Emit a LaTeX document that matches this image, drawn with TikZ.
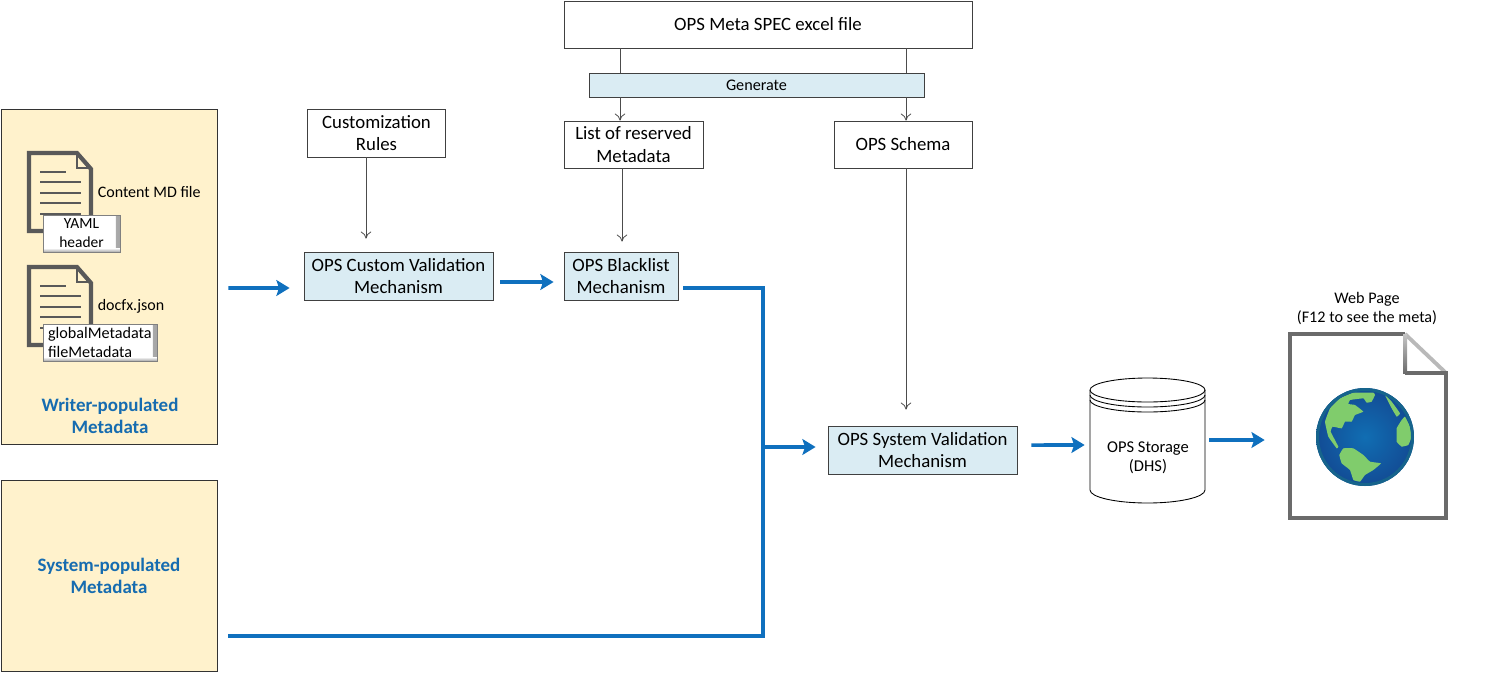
\documentclass[tikz,border=0pt]{standalone}
\usepackage{fontspec}
\setmainfont{Carlito}
\usetikzlibrary{arrows.meta}
\definecolor{creamfill}{RGB}{255,242,204}
\definecolor{mechfill}{RGB}{218,236,243}
\definecolor{flowblue}{RGB}{15,112,190}
\definecolor{titleblue}{RGB}{22,108,176}
\definecolor{icongray}{RGB}{89,89,89}
\definecolor{landgreen}{RGB}{128,204,108}
\definecolor{seablue}{RGB}{20,84,165}
\definecolor{rimteal}{RGB}{22,100,140}
\tikzset{
  diagram/.style={
    x=0.02cm, y=-0.02cm,
    line join=miter,
    every node/.style={align=center, font=\fontsize{10.7}{13}\selectfont},
  },
  plainbox/.style={draw=black!75, fill=white, line width=0.5pt, inner sep=0pt},
  mechbox/.style={plainbox, fill=mechfill},
  creambox/.style={draw=black!80, fill=creamfill, line width=0.5pt, inner sep=0pt, minimum width=4.32cm},
  bluetitle/.style={font=\fontsize{10.8}{12.5}\selectfont\bfseries, text=titleblue},
  bevelbox/.style={draw=gray, fill=white, line width=0.5pt, inner sep=0pt, align=left,
    font=\fontsize{9.2}{10.8}\selectfont,
    path picture={
      \shade[left color=white, right color=gray!70]
        ([xshift=-0.08cm]path picture bounding box.south east) rectangle (path picture bounding box.north east);
      \shade[top color=white, bottom color=gray!70]
        ([yshift=0.08cm]path picture bounding box.south west) rectangle (path picture bounding box.south east);
    }},
  thin flow/.style={draw=black!70, line width=0.45pt, -{To[length=4pt,width=6pt]}},
  thin link/.style={draw=black!70, line width=0.45pt},
  flow/.style={draw=flowblue, line width=2pt, -{Stealth[length=7.5pt,width=9pt,inset=1.5pt]}},
  flow line/.style={draw=flowblue, line width=2pt},
}
\newcommand{\docicon}[2]{%
  \draw[icongray, line width=2.4pt] (#1+48,#2) -- (#1,#2) -- (#1,#2+78) -- (#1+62,#2+78) -- (#1+62,#2+16) -- cycle;
  \draw[icongray, line width=0.9pt] (#1+48,#2) -- (#1+48,#2+15) -- (#1+62,#2+15);
  \draw[icongray, line width=1.1pt] (#1+11,#2+19) -- ++(26,0);
  \foreach \liney in {29,40,50,61} {
    \draw[icongray, line width=1.1pt] (#1+11,#2+\liney) -- ++(41,0);
  }
}
\begin{document}
\begin{tikzpicture}[diagram]
  \useasboundingbox (0,0) rectangle (1498,673);
  % metadata sources
  \node[creambox, minimum height=6.7cm] (writer) at (109,276.5) {};
  \node[creambox, minimum height=3.82cm, bluetitle] (system) at (109,576) {System-populated\\Metadata};
  \node[bluetitle] (writertitle) at (110,416) {Writer-populated\\Metadata};
  \docicon{29}{153}
  \docicon{29}{267}
  \node[anchor=west, inner sep=0pt, font=\fontsize{9.1}{10}\selectfont] (mdlabel) at (97.5,192) {Content MD file};
  \node[anchor=west, inner sep=0pt, font=\fontsize{9.1}{10}\selectfont] (docfxlabel) at (97.5,306) {docfx.json};
  \node[bevelbox, align=center, minimum width=1.54cm, minimum height=0.74cm, font=\fontsize{8.8}{10.8}\selectfont] (yaml) at (81.5,233.5) {YAML\\header};
  \node[bevelbox, minimum width=2.28cm, minimum height=0.74cm, text width=2.08cm] (global) at (100,342.5) {globalMetadata\\fileMetadata};
  % spec and generated files
  \node[plainbox, minimum width=8.16cm, minimum height=0.94cm] (spec) at (768,24.5) {OPS Meta SPEC excel file};
  \node[mechbox, minimum width=6.7cm, minimum height=0.48cm, font=\fontsize{9.2}{10}\selectfont] (generate) at (756.5,85) {Generate};
  \node[plainbox, minimum width=2.76cm, minimum height=0.96cm] (custrules) at (376.5,133) {Customization\\Rules};
  \node[plainbox, minimum width=2.78cm, minimum height=0.94cm] (reserved) at (633.5,144.5) {List of reserved\\Metadata};
  \node[plainbox, minimum width=2.76cm, minimum height=0.94cm] (schema) at (903,144.5) {OPS Schema};
  % validation steps
  \node[mechbox, minimum width=3.78cm, minimum height=0.96cm] (custom) at (398.5,276) {OPS Custom Validation\\Mechanism};
  \node[mechbox, minimum width=2.28cm, minimum height=0.96cm] (blacklist) at (621,276) {OPS Blacklist\\Mechanism};
  \node[mechbox, minimum width=3.78cm, minimum height=0.96cm] (sysval) at (922.5,450) {OPS System Validation\\Mechanism};
  % storage
  \node[inner sep=0pt, minimum width=2.3cm, minimum height=2.5cm] (storage) at (1147.5,440) {};
  \draw[black, line width=0.5pt] (1090,390) -- (1090,490) arc[start angle=180, end angle=360, x radius=57.5, y radius=-13] -- (1205,390);
  \draw[black, line width=0.5pt] (1147.5,390) ellipse[x radius=57.5, y radius=12];
  \draw[black, line width=0.5pt] (1090,395) arc[start angle=180, end angle=360, x radius=57.5, y radius=-12];
  \draw[black, line width=0.5pt] (1090,400) arc[start angle=180, end angle=360, x radius=57.5, y radius=-12];
  \node[font=\fontsize{9.4}{10.6}\selectfont] (storagelabel) at (1148,458) {OPS Storage\\(DHS)};
  % web page
  \node[inner sep=0pt, minimum width=3.12cm, minimum height=3.7cm] (webpage) at (1368,425.5) {};
  \node[anchor=south, inner sep=0pt, font=\fontsize{9.2}{10.8}\selectfont] (weblabel) at (1367,325) {Web Page\\(F12 to see the meta)};
  \draw[gray!55, line width=2.2pt] (1405,334) -- (1446,373);
  \draw[black!58, line width=2.2pt] (1405,334) -- (1290,334) -- (1290,518) -- (1446,518) -- (1446,373) -- (1405,373);
  \shade[top color=gray!45, bottom color=black!58] (1403,334) rectangle (1407,373);
  \begin{scope}
    \path[clip] (1365,437) circle[radius=49];
    \shade[inner color=seablue!85!cyan, outer color=seablue!90!black] (1316,388) rectangle (1414,486);
    \begin{scope}[shift={(1310,380)}, scale=1/3]
      % land
      \fill[landgreen] plot[smooth cycle, tension=0.15] coordinates {(45,125) (60,85) (90,55) (130,38) (190,38) (195,45) (185,65) (170,68) (160,55) (120,60) (115,72) (135,75) (160,95) (135,105) (125,125) (105,125) (95,145) (68,140) (62,155) (85,200) (80,205) (55,170)};
      \fill[landgreen] plot[smooth cycle, tension=0.15] coordinates {(88,225) (100,205) (130,205) (160,225) (180,245) (213,250) (190,270) (165,285) (150,305) (130,300) (120,270) (95,250)};
      \fill[landgreen] plot[smooth cycle, tension=0.15] coordinates {(260,145) (275,120) (285,110) (300,140) (305,170) (295,195) (275,200) (260,185)};
      \fill[landgreen] plot[smooth cycle, tension=0.15] coordinates {(225,45) (245,65) (270,100) (260,110) (245,85)};
    \end{scope}
  \end{scope}
  \draw[rimteal, line width=1.7pt] (1365,437) circle[radius=47.5];
  % thin connectors
  \draw[thin link] (spec.south -| 620,0) -- (generate.north -| 620,0);
  \draw[thin link] (spec.south -| 906,0) -- (generate.north -| 906,0);
  \draw[thin flow] (generate.south -| 620,0) -- (reserved.north -| 620,0);
  \draw[thin flow] (generate.south -| 906,0) -- (schema.north -| 906,0);
  \draw[thin flow, shorten >=0.26cm] (custrules.south -| 366,0) -- (custom.north -| 366,0);
  \draw[thin flow, shorten >=0.2cm] (reserved.south -| 622,0) -- (blacklist.north -| 622,0);
  \draw[thin flow, shorten >=0.32cm] (schema.south -| 906,0) -- (sysval.north -| 906,0);
  % blue connectors
  \coordinate (junction) at (763,447);
  \draw[flow, shorten <=0.22cm, shorten >=0.28cm] ([yshift=-0.23cm]writer.east) -- ([yshift=-0.24cm]custom.west);
  \draw[flow, shorten <=0.14cm, shorten >=0.2cm] ([yshift=-0.12cm]custom.east) -- ([yshift=-0.12cm]blacklist.west);
  \draw[flow line, shorten <=0.1cm] ([yshift=-0.24cm]blacklist.east) -| (junction);
  \draw[flow line, shorten <=0.22cm] (system.east |- 0,636) -| (junction);
  \draw[flow, shorten >=0.24cm] (junction) -- (sysval.west |- junction);
  \draw[flow, shorten <=0.28cm, shorten >=0.1cm] ([yshift=0.1cm]sysval.east) -- ([yshift=-0.1cm]storage.west);
  \draw[flow, shorten <=0.08cm, shorten >=0.5cm] (storage.east) -- (webpage.west |- storage.east);
\end{tikzpicture}
\end{document}
